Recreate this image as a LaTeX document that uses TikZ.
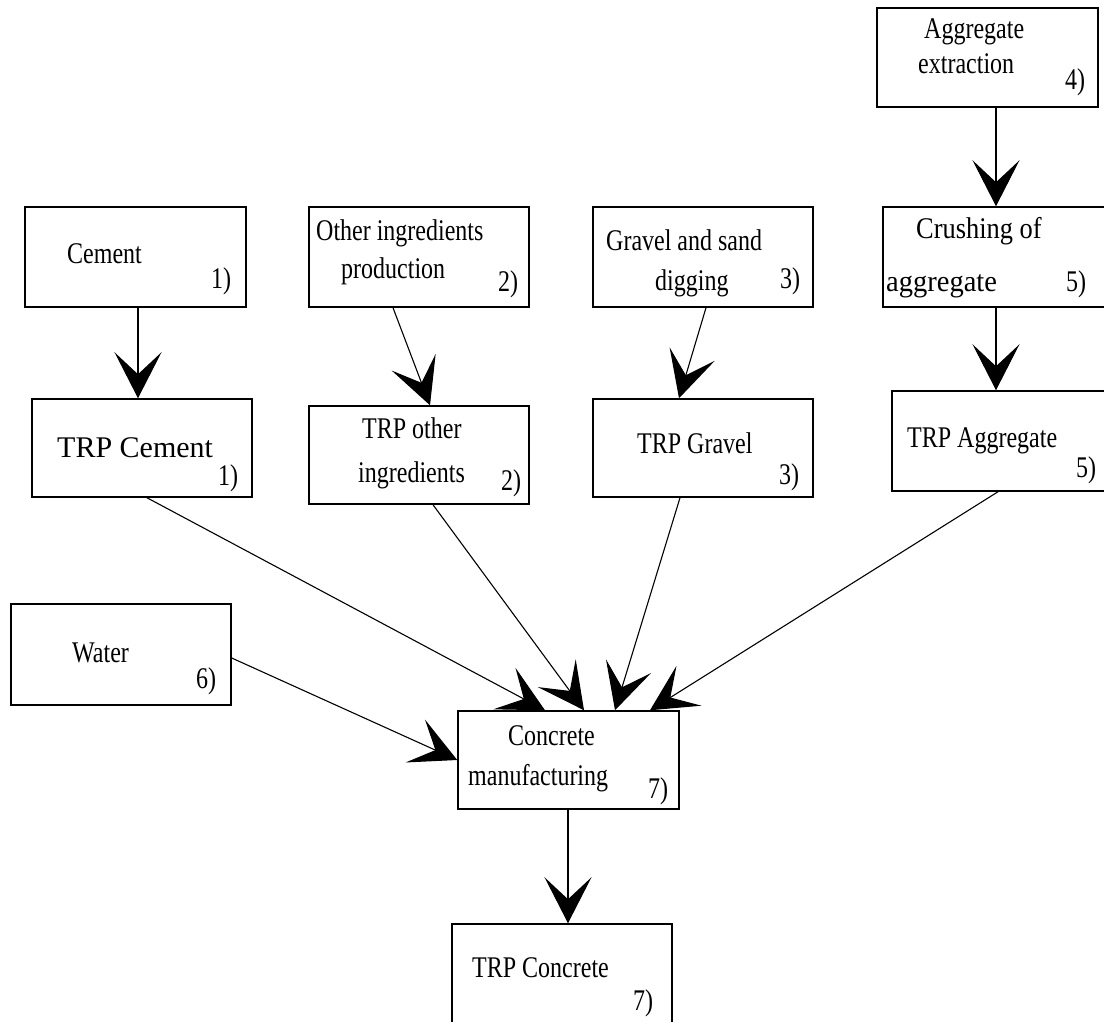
\documentclass[tikz,border=0pt]{standalone}
\usepackage{fontspec}
\setmainfont{Liberation Serif}
\newfontfamily\cf[FakeStretch=0.8]{Liberation Serif}
\newfontfamily\cfa[FakeStretch=0.88]{Liberation Serif}
\newfontfamily\cfb[FakeStretch=0.95]{Liberation Serif}
\usetikzlibrary{arrows.meta}
\begin{document}
\begin{tikzpicture}[x=1pt,y=-1pt,
  procbox/.style={draw,line width=1.5pt,inner sep=0pt,minimum width=220pt,minimum height=99pt},
  txt/.style={anchor=base west,inner sep=0pt,font=\cf\fontsize{30}{36}\selectfont},
  txta/.style={anchor=base west,inner sep=0pt,font=\cfa\fontsize{30}{36}\selectfont},
  txtb/.style={anchor=base west,inner sep=0pt,font=\cfb\fontsize{30}{36}\selectfont},
  bigtxt/.style={anchor=base west,inner sep=0pt,font=\fontsize{30}{36}\selectfont},
  arr/.style={line width=1.1pt,-{Stealth[length=46pt,width=47pt,inset=22pt]}}]
\useasboundingbox (0,0) rectangle (1104,1021);
% boxes
\node[procbox,minimum width=221pt] (agg) at (987.5,57.5) {};
\node[procbox,minimum width=221pt,minimum height=100pt] (cem) at (135.5,257) {};
\node[procbox,minimum height=100pt] (oth) at (419,257) {};
\node[procbox,minimum height=100pt] (grav) at (703,257) {};
\node[procbox,minimum width=228pt,minimum height=100pt] (crush) at (997,257) {};
\node[procbox,minimum height=98pt] (trpcem) at (142,448) {};
\node[procbox,minimum height=98pt] (trpoth) at (419,455) {};
\node[procbox,minimum height=98pt] (trpgrav) at (703,448) {};
\node[procbox,minimum width=226pt,minimum height=100pt] (trpagg) at (1005,441) {};
\node[procbox,minimum height=101pt] (water) at (121,654.5) {};
\node[procbox,minimum width=221pt,minimum height=98pt] (conc) at (568.5,760) {};
\node[procbox,minimum height=106pt] (trpconc) at (562,977) {};
% texts
\node[txt] (a1) at (924,38) {Aggregate};
\node[txt] (a2) at (918,73) {extraction};
\node[txt] (a3) at (1065,89) {4)};
\node[txt] (c1) at (67,263) {Cement};
\node[txt] (c2) at (211,288) {1)};
\node[txt] (o1) at (316,240) {Other ingredients};
\node[txt] (o2) at (341,278) {production};
\node[txt] (o3) at (498,291) {2)};
\node[txt] (g1) at (606,250) {Gravel and sand};
\node[txt] (g2) at (655,290) {digging};
\node[txt] (g3) at (780,288) {3)};
\node[txta] (k1) at (916,238) {Crushing of};
\node[txtb] (k2) at (886,291) {aggregate};
\node[txt] (k3) at (1066,291) {5)};
\node[bigtxt] (tc1) at (57,457) {TRP Cement};
\node[txt] (tc2) at (218,485) {1)};
\node[txt] (to1) at (362,438) {TRP other};
\node[txt] (to2) at (358,482) {ingredients};
\node[txt] (to3) at (501,490) {2)};
\node[txt] (tg1) at (637,453) {TRP Gravel};
\node[txt] (tg2) at (779,484) {3)};
\node[txt] (ta1) at (907,447) {TRP Aggregate};
\node[txt] (ta2) at (1076,477) {5)};
\node[txt] (w1) at (72,662) {Water};
\node[txt] (w2) at (196,688) {6)};
\node[txt] (m1) at (508,745) {Concrete};
\node[txt] (m2) at (468,785) {manufacturing};
\node[txt] (m3) at (648,798) {7)};
\node[txt] (tk1) at (472,977) {TRP Concrete};
\node[txt] (tk2) at (633,1010) {7)};
% connectors
\draw[arr] ([xshift=2.5pt]cem.south) -- ([xshift=-4pt]trpcem.north);
\draw[arr] ([xshift=-26pt]oth.south) -- ([xshift=11pt]trpoth.north);
\draw[arr] ([xshift=3pt]grav.south) -- ([xshift=-24pt]trpgrav.north);
\draw[arr] ([xshift=8.5pt]agg.south) -- ([xshift=-1pt]crush.north);
\draw[arr] ([xshift=-1pt]crush.south) -- ([xshift=-9pt]trpagg.north);
\draw[arr] ([xshift=5pt]trpcem.south) -- ([xshift=-23.5pt]conc.north);
\draw[arr] ([xshift=14pt]trpoth.south) -- ([xshift=15.5pt]conc.north);
\draw[arr] ([xshift=-23pt]trpgrav.south) -- ([xshift=46.5pt]conc.north);
\draw[arr] ([xshift=-7pt]trpagg.south) -- ([xshift=81.5pt]conc.north);
\draw[arr] ([yshift=-3.5pt]water.east) -- (conc.west);
\draw[arr] ([xshift=-0.5pt]conc.south) -- ([xshift=6pt]trpconc.north);
\end{tikzpicture}
\end{document}
